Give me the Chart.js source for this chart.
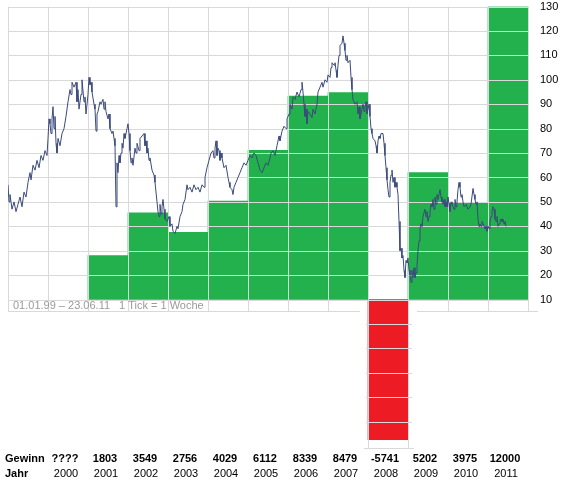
<!DOCTYPE html>
<html><head><meta charset="utf-8">
<script src="https://cdn.jsdelivr.net/npm/chart.js@4.4.1/dist/chart.umd.min.js"></script>
<style>html,body{margin:0;padding:0;background:#fff}#wrap{width:571px;height:495px;position:relative}</style>
</head><body><div id="wrap"><canvas id="c"></canvas></div>
<script>
// ---- data ----
const categories = ['1999','2000','2001','2002','2003','2004','2005','2006','2007','2008','2009','2010','2011'];
const yearLabels = ['','2000','2001','2002','2003','2004','2005','2006','2007','2008','2009','2010','2011'];
const gewinnLabels = ['','????','1803','3549','2756','4029','6112','8339','8479','-5741','5202','3975','12000'];
const gewinn = [null,null,1803,3549,2756,4029,6112,8339,8479,-5741,5202,3975,12000];
const barBase = 10;      // bars start at axis value 10
const barUnit = 100;     // Gewinn per axis unit
const firstYear = 1999, lastYear = 2011;
const rowHeaders = ['Gewinn','Jahr'];
const rangeText = '01.01.99 \u2013 23.06.11';
const tickText = '1 Tick = 1 Woche';
// weekly price (decimal year, price)
const pricePoints = [
[1999.000,57],[1999.025,50],[1999.050,53],[1999.100,47],[1999.150,50],[1999.200,46],[1999.250,49],[1999.300,52],[1999.350,48],[1999.400,54],[1999.450,52],[1999.500,58],[1999.550,62],[1999.575,59],[1999.625,65],[1999.675,63],[1999.725,67],[1999.775,64],[1999.825,69],[1999.875,67],[1999.925,71],[1999.975,69],
[2000.000,76],[2000.025,84],[2000.050,82],[2000.075,78],[2000.100,84],[2000.125,89],[2000.150,80],[2000.175,85],[2000.200,74],[2000.225,70],[2000.250,76],[2000.300,73],[2000.350,78],[2000.400,80],[2000.450,85],[2000.500,91],[2000.550,96],[2000.575,94],[2000.600,99],[2000.650,97],[2000.700,99],[2000.725,91],[2000.750,96],[2000.775,88],[2000.825,94],[2000.850,100],[2000.900,91],[2000.925,93],[2000.950,86],
[2001.000,94],[2001.025,101],[2001.050,98],[2001.075,99],[2001.100,95],[2001.150,90],[2001.175,88],[2001.200,79],[2001.225,86],[2001.250,87],[2001.300,91],[2001.325,90],[2001.375,92],[2001.400,88],[2001.425,91],[2001.450,87],[2001.500,84],[2001.525,86],[2001.550,80],[2001.600,78],[2001.625,79],[2001.650,76],[2001.675,73],[2001.700,48],[2001.725,66],[2001.750,62],[2001.775,69],[2001.800,66],[2001.825,70],[2001.850,74],[2001.875,72],[2001.900,78],[2001.925,76],[2001.975,80],
[2002.000,82],[2002.025,78],[2002.050,71],[2002.075,66],[2002.100,68],[2002.125,65],[2002.175,72],[2002.200,70],[2002.225,74],[2002.275,71],[2002.300,76],[2002.350,77],[2002.400,78],[2002.425,73],[2002.450,75],[2002.475,70],[2002.500,72],[2002.525,67],[2002.550,68],[2002.600,63],[2002.650,61],[2002.675,58],[2002.725,50],[2002.750,46],[2002.775,44],[2002.800,49],[2002.825,45],[2002.850,48],[2002.875,51],[2002.900,47],[2002.925,43],[2002.975,42],
[2003.025,44],[2003.050,40],[2003.100,41],[2003.125,38],[2003.175,37],[2003.225,40],[2003.250,39],[2003.300,44],[2003.350,46],[2003.375,49],[2003.425,51],[2003.475,57],[2003.500,55],[2003.550,56],[2003.600,54],[2003.650,57],[2003.700,55],[2003.750,56],[2003.800,54],[2003.850,57],[2003.900,56],[2003.925,60],[2003.975,64],
[2004.025,67],[2004.075,70],[2004.125,71],[2004.150,68],[2004.175,72],[2004.200,75],[2004.225,69],[2004.250,72],[2004.275,71],[2004.300,67],[2004.325,70],[2004.350,68],[2004.400,64],[2004.450,65],[2004.500,60],[2004.525,58],[2004.550,56],[2004.600,55],[2004.625,53],[2004.650,56],[2004.700,58],[2004.750,60],[2004.800,62],[2004.850,64],[2004.900,66],[2004.950,65],
[2005.000,67],[2005.050,69],[2005.100,68],[2005.150,70],[2005.200,69],[2005.250,66],[2005.300,63],[2005.350,62],[2005.400,64],[2005.450,66],[2005.500,65],[2005.550,68],[2005.575,70],[2005.625,71],[2005.675,69],[2005.725,73],[2005.775,77],[2005.800,75],[2005.850,79],[2005.900,81],[2005.950,80],[2005.975,84],
[2006.025,86],[2006.050,90],[2006.100,88],[2006.125,93],[2006.175,92],[2006.225,95],[2006.275,93],[2006.325,96],[2006.350,99],[2006.375,95],[2006.400,90],[2006.425,85],[2006.450,88],[2006.475,82],[2006.500,87],[2006.550,86],[2006.600,84.5],[2006.625,88],[2006.675,86],[2006.725,90],[2006.750,95],[2006.800,97],[2006.850,99],[2006.875,97],[2006.925,100],[2006.975,99],
[2007.000,102],[2007.050,101],[2007.075,105],[2007.100,107],[2007.150,106],[2007.175,107],[2007.200,104],[2007.225,101],[2007.250,106],[2007.275,110],[2007.300,114],[2007.350,115],[2007.375,118],[2007.400,115],[2007.425,112],[2007.450,108],[2007.475,110],[2007.500,107],[2007.550,108],[2007.575,101],[2007.600,96],[2007.625,92],[2007.675,90],[2007.725,91],[2007.750,86],[2007.775,89],[2007.800,84],[2007.825,86],[2007.875,90],[2007.900,87],[2007.925,89],[2007.950,91],[2007.975,86],
[2008.000,88],[2008.025,90],[2008.050,85],[2008.075,80],[2008.100,78],[2008.125,76],[2008.175,75],[2008.200,73],[2008.225,70],[2008.250,75],[2008.275,77],[2008.300,76],[2008.325,78],[2008.375,78],[2008.400,74],[2008.425,69],[2008.450,64],[2008.475,59],[2008.500,55],[2008.525,52],[2008.550,58],[2008.575,61],[2008.600,63],[2008.625,58],[2008.650,60],[2008.675,56],[2008.700,58],[2008.725,56],[2008.750,53],[2008.775,42],[2008.800,30],[2008.825,31],[2008.850,27],[2008.875,28],[2008.900,22],[2008.925,19],[2008.950,26],[2008.975,25],
[2009.000,27],[2009.025,22],[2009.050,20],[2009.075,17],[2009.100,22],[2009.125,19],[2009.150,23],[2009.175,19],[2009.200,21],[2009.225,24],[2009.250,30],[2009.275,34],[2009.300,39],[2009.325,41],[2009.350,40],[2009.375,44],[2009.425,47],[2009.450,44],[2009.475,46],[2009.500,42],[2009.525,44],[2009.550,46],[2009.575,49],[2009.600,48],[2009.625,51],[2009.650,47],[2009.675,52],[2009.700,49],[2009.725,53],[2009.750,51],[2009.800,55],[2009.825,52],[2009.850,50],[2009.875,49],[2009.900,51],[2009.925,48],[2009.950,50],[2009.975,48],
[2010.000,52],[2010.025,49],[2010.050,46],[2010.075,50],[2010.100,49],[2010.150,47],[2010.175,51],[2010.200,48],[2010.225,50],[2010.250,55],[2010.275,58],[2010.300,56],[2010.325,52],[2010.350,53],[2010.375,50],[2010.400,48],[2010.450,49],[2010.500,47],[2010.550,48],[2010.575,49],[2010.625,55.5],[2010.650,53],[2010.675,51],[2010.700,49],[2010.725,50],[2010.750,43],[2010.775,40],[2010.800,41],[2010.825,40],[2010.850,42],[2010.875,41],[2010.900,40],[2010.925,39],[2010.950,40],[2010.975,38],
[2011.000,40],[2011.025,39],[2011.050,42],[2011.075,44],[2011.100,46],[2011.125,48],[2011.150,47],[2011.175,43],[2011.200,42],[2011.225,44],[2011.250,40],[2011.275,41],[2011.300,42],[2011.325,43],[2011.350,42],[2011.375,43],[2011.400,41],[2011.425,42],[2011.450,40],[2011.475,40]
];

// ---- styles ----
const FONT = '"Liberation Sans", Arial, sans-serif';
const gridColor = '#d9d9d9';
const greenColor = '#22b14c';
const redColor = '#ed1c24';
const lineColor = '#3b4a7c';

Chart.defaults.font.family = FONT;
Chart.defaults.font.size = 11;
Chart.defaults.color = '#000';

const overlay = {
  id: 'overlay',
  afterDatasetDraw(chart, args) {
    if (args.meta.type !== 'bar') return;
    const ctx = chart.ctx, ca = chart.chartArea, y = chart.scales.y, xl = chart.scales.xLine;
    const a = v => Math.round(v) + 0.5;
    const y10 = y.getPixelForValue(barBase);
    const strip = a(y10 + 11);
    ctx.save();
    ctx.strokeStyle = gridColor;
    ctx.lineWidth = 1;
    ctx.beginPath();
    y.ticks.forEach(t => {
      if (t.value >= barBase) {
        const py = a(y.getPixelForValue(t.value));
        ctx.moveTo(ca.left, py); ctx.lineTo(ca.right, py);
      }
    });
    for (let yr = firstYear; yr <= lastYear + 1; yr++) {
      const px = a(xl.getPixelForValue(yr));
      ctx.moveTo(px, ca.top); ctx.lineTo(px, strip);
    }
    // strip bottom line with gaps at negative columns
    let sx = ca.left;
    gewinn.forEach((g, i) => {
      if (g !== null && g < 0) {
        const L = xl.getPixelForValue(firstYear + i), R = xl.getPixelForValue(firstYear + i + 1);
        ctx.moveTo(sx, strip); ctx.lineTo(L - 8, strip);
        sx = R + 9;
        const yb = a(y.getPixelForValue(y.min) + 2);
        ctx.moveTo(a(L), y10); ctx.lineTo(a(L), yb);
        ctx.moveTo(a(R), y10); ctx.lineTo(a(R), yb);
        y.ticks.forEach(t => {
          if (t.value < barBase && t.value > y.min) {
            const py = a(y.getPixelForValue(t.value));
            ctx.moveTo(L - 2, py); ctx.lineTo(R + 4, py);
          }
        });
        ctx.moveTo(L - 4, yb); ctx.lineTo(R + 6, yb);
      }
    });
    ctx.moveTo(sx, strip); ctx.lineTo(ca.right + 10, strip);
    ctx.stroke();
    // strip text
    ctx.fillStyle = '#9a9a9a';
    ctx.font = '11px ' + FONT;
    ctx.textBaseline = 'middle';
    ctx.textAlign = 'left';
    ctx.fillText(rangeText, ca.left + 5, y10 + 6);
    ctx.fillText(tickText, ca.left + 111, y10 + 6);
    ctx.restore();
  },
  afterDraw(chart) {
    const ctx = chart.ctx;
    const sx = chart.scales.x, sy = chart.scales.xYear;
    ctx.save();
    ctx.fillStyle = '#000';
    ctx.font = 'bold 11px ' + FONT;
    ctx.textBaseline = 'middle';
    ctx.textAlign = 'left';
    ctx.fillText(rowHeaders[0], 5, sx.top + sx.options.ticks.padding + 6.6);
    ctx.fillText(rowHeaders[1], 5, sy.top + sy.options.ticks.padding + 6.6);
    ctx.restore();
  }
};

new Chart(document.getElementById('c'), {
  type: 'bar',
  data: {
    labels: categories,
    datasets: [
      {
        type: 'line',
        data: pricePoints.map(p => ({x: p[0], y: p[1]})),
        xAxisID: 'xLine', yAxisID: 'y',
        borderColor: lineColor, borderWidth: 1, pointRadius: 0, tension: 0,
        order: 1
      },
      {
        type: 'bar',
        data: gewinn.map(g => g === null ? null : [barBase, barBase + g / barUnit]),
        xAxisID: 'x', yAxisID: 'y',
        backgroundColor: gewinn.map(g => (g !== null && g < 0) ? redColor : greenColor),
        borderWidth: 0, barPercentage: 1, categoryPercentage: 1, grouped: false,
        order: 2
      }
    ]
  },
  options: {
    responsive: true, maintainAspectRatio: false, animation: false,
    layout: { padding: { left: 8, top: 0, right: 0, bottom: 0 } },
    plugins: { legend: { display: false }, tooltip: { enabled: false } },
    scales: {
      x: {
        type: 'category', position: 'bottom', weight: 0, offset: true,
        grid: { display: false, drawTicks: false }, border: { display: false },
        ticks: { font: { weight: 'bold', size: 11 }, padding: 6, labelOffset: -3, autoSkip: false, maxRotation: 0,
                 callback: (v, i) => gewinnLabels[i] },
        afterFit: s => { s.height = 20; }
      },
      xYear: {
        type: 'category', labels: categories, position: 'bottom', weight: 1, offset: true,
        grid: { display: false, drawTicks: false }, border: { display: false },
        ticks: { font: { size: 11 }, padding: 1, labelOffset: -2, autoSkip: false, maxRotation: 0,
                 callback: (v, i) => yearLabels[i] },
        afterFit: s => { s.height = 29; }
      },
      xLine: { type: 'linear', position: 'bottom', min: firstYear, max: lastYear + 1, offset: false,
               grid: { offset: false }, display: false },
      y: {
        position: 'right', min: -50, max: 130,
        grid: { display: true, color: 'rgba(0,0,0,0)', drawOnChartArea: false, drawTicks: true, tickLength: 12 },
        border: { display: false },
        ticks: { stepSize: 10, padding: 0, font: { size: 11 },
                 callback: v => v >= barBase ? String(v) : '' },
        afterFit: s => { s.width = 43; }
      }
    }
  },
  plugins: [overlay]
});
</script></body></html>
